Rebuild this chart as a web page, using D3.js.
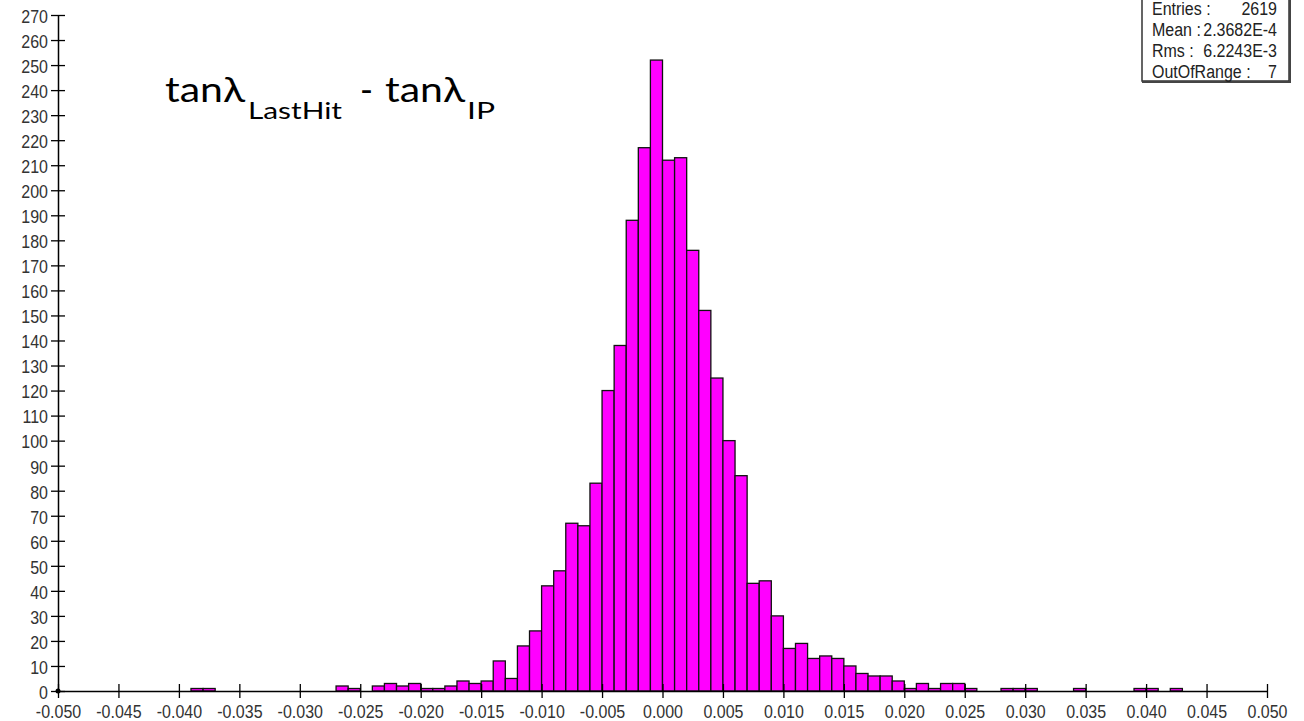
<!DOCTYPE html>
<html>
<head>
<meta charset="utf-8">
<script src="https://cdn.jsdelivr.net/npm/d3@7"></script>
<style>
    body { margin: 0; background: #fff; }
    svg { display: block; }
</style>
</head>
<body>
<script>
// Histogram of tan(lambda) at last hit minus at IP, 100 bins over [-0.05, 0.05]
let binRange = [-0.05, 0.05];
let binWidth = 0.001;
let counts = [
    0, 0, 0, 0, 0, 0, 0, 0, 0, 0,
    0, 1, 1, 0, 0, 0, 0, 0, 0, 0,
    0, 0, 0, 2, 1, 0, 2, 3, 2, 3,
    1, 1, 2, 4, 3, 4, 12, 5, 18, 24,
    42, 48, 67, 66, 83, 120, 138, 188, 217, 252,
    212, 213, 176, 152, 125, 100, 86, 43, 44, 30,
    17, 19, 13, 14, 13, 10, 7, 6, 6, 4,
    1, 3, 1, 3, 3, 1, 0, 0, 1, 1,
    1, 0, 0, 0, 1, 0, 0, 0, 0, 1,
    1, 0, 1, 0, 0, 0, 0, 0, 0, 0
];
let xTicks = d3.range(-50, 51, 5).map(d => d / 1000);
let yTicks = d3.range(0, 271, 10);
let statLabels = ['Entries :', 'Mean :', 'Rms :', 'OutOfRange :'];
let statValues = ['2619', '2.3682E-4', '6.2243E-3', '7'];

let bins = counts.map((c, i) => ({
    lo: binRange[0] + i * binWidth,
    hi: binRange[0] + (i + 1) * binWidth,
    count: c
}));

let width = 1304, height = 721;
let margin = { top: 15, bottom: 30, left: 58, right: 37 };
let labelFont = '"Liberation Sans", Arial, sans-serif';
let stretch = 1.15; // the reference text is drawn a bit taller than wide

let svg = d3
    .select('body')
    .append('svg')
    .attr('width', width)
    .attr('height', height);

let xScale = d3.scaleLinear()
    .domain(binRange)
    .range([margin.left, width - margin.right]);

let yScale = d3.scaleLinear()
    .domain([0, 270])
    .range([height - margin.bottom, margin.top]);

// Bars
svg.selectAll('rect.bar')
    .data(bins.filter(d => d.count > 0))
    .enter()
    .append('rect')
    .attr('class', 'bar')
    .attr('x', d => xScale(d.lo))
    .attr('y', d => yScale(d.count))
    .attr('width', d => xScale(d.hi) - xScale(d.lo))
    .attr('height', d => yScale(0) - yScale(d.count))
    .attr('fill', '#ff00ff')
    .attr('stroke', '#111')
    .attr('stroke-width', 1.3);

let fmt = d => d3.format('.3f')(d).replace('\u2212', '-');

// Axes
let xAxis = svg.append('g')
    .attr('transform', `translate(0,${yScale(0)})`)
    .call(d3.axisBottom(xScale).tickValues(xTicks).tickFormat(fmt)
        .tickSize(7).tickSizeOuter(0));

let yAxis = svg.append('g')
    .attr('transform', `translate(${xScale(binRange[0])},0)`)
    .call(d3.axisLeft(yScale).tickValues(yTicks)
        .tickSize(7).tickSizeOuter(0));

xAxis.selectAll('.tick line').attr('y1', -7).attr('y2', 7);
yAxis.selectAll('.tick line').attr('x1', -7).attr('x2', 7);

xAxis.selectAll('.tick text')
    .attr('y', null).attr('dy', null)
    .attr('transform', `translate(0,27) scale(1,${stretch})`);
yAxis.selectAll('.tick text')
    .attr('x', null).attr('dy', '0.4em')
    .attr('transform', `translate(-10,0) scale(1,${stretch})`);

[xAxis, yAxis].forEach(ax => {
    ax.select('.domain').attr('stroke', '#000').attr('stroke-width', 1.5);
    ax.selectAll('.tick line').attr('stroke', '#000').attr('stroke-width', 1.3);
    ax.selectAll('text')
        .style('font-family', labelFont)
        .style('font-size', '16px')
        .style('fill', '#333');
});

svg.append('circle')
    .attr('cx', xScale(binRange[0]))
    .attr('cy', yScale(0))
    .attr('r', 2.5)
    .attr('fill', '#000');

// Title, piece by piece so each part spans the width it has in the picture
let titleParts = [
    { t: 'tanλ', x: 165, y: 102, size: 35, len: 80 },
    { t: 'LastHit', x: 248, y: 119, size: 24, len: 94 },
    { t: '-', x: 360, y: 102, size: 35, len: 13 },
    { t: 'tanλ', x: 385, y: 102, size: 35, len: 80 },
    { t: 'IP', x: 467, y: 119, size: 24, len: 28 }
];
svg.append('g')
    .selectAll('text')
    .data(titleParts)
    .enter()
    .append('text')
    .attr('x', d => d.x)
    .attr('y', d => d.y)
    .attr('textLength', d => d.len)
    .attr('lengthAdjust', 'spacingAndGlyphs')
    .style('font-family', 'Lato, "Open Sans", sans-serif')
    .style('font-size', d => d.size + 'px')
    .style('fill', '#000')
    .text(d => d.t);

// Stats box
let box = svg.append('g');
box.append('rect')
    .attr('x', 1142)
    .attr('y', -2)
    .attr('width', 147)
    .attr('height', 83)
    .attr('fill', '#fff')
    .attr('stroke', '#333')
    .attr('stroke-width', 1.5);
box.append('path')
    .attr('d', 'M1290,0V82H1142')
    .attr('fill', 'none')
    .attr('stroke', '#444')
    .attr('stroke-width', 2);

statLabels.forEach((s, i) => {
    let y = 14.5 + i * 21;
    box.append('text')
        .attr('transform', `translate(1152,${y}) scale(1,1.1)`)
        .style('font-family', labelFont)
        .style('font-size', '16px')
        .style('fill', '#222')
        .text(s);
    box.append('text')
        .attr('transform', `translate(1277,${y}) scale(1,1.1)`)
        .attr('text-anchor', 'end')
        .style('font-family', labelFont)
        .style('font-size', '16px')
        .style('fill', '#222')
        .text(statValues[i]);
});
</script>
</body>
</html>
